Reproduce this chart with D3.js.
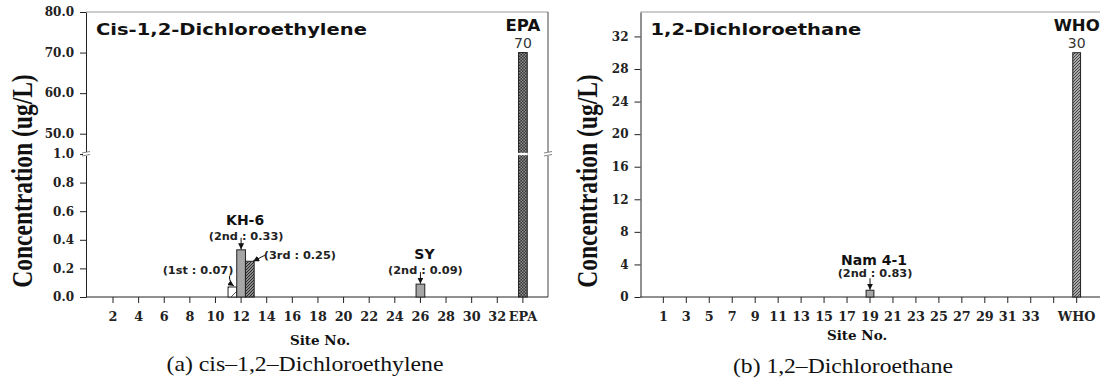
<!DOCTYPE html>
<html>
<head>
<meta charset="utf-8">
<script src="https://cdn.jsdelivr.net/npm/d3@7/dist/d3.min.js"></script>
<style>
  body { margin: 0; background: #fff; }
</style>
</head>
<body>
<script>
// ---- (a) cis-1,2-Dichloroethylene ----
var sitesA = ['1','2','3','4','5','6','7','8','9','10','11','12','13','14','15','16','17',
  '18','19','20','21','22','23','24','25','26','27','28','29','30','31','32','33','EPA'];
var detectSiteA = ['12', '12', '12', '26'];
var detectRoundA = ['1st', '2nd', '3rd', '2nd'];
var detectValueA = [0.07, 0.33, 0.25, 0.09];
var groupNameA = ['KH-6', 'SY'];
var groupSiteA = ['12', '26'];
var standardNameA = 'EPA';
var standardValueA = 70;
var yTicksA = [0, 0.2, 0.4, 0.6, 0.8, 1.0, 50, 60, 70, 80];

// ---- (b) 1,2-Dichloroethane ----
var sitesB = ['1','2','3','4','5','6','7','8','9','10','11','12','13','14','15','16','17',
  '18','19','20','21','22','23','24','25','26','27','28','29','30','31','32','33','34','35','36','WHO'];
var detectSiteB = ['19'];
var detectRoundB = ['2nd'];
var detectValueB = [0.83];
var groupNameB = ['Nam 4-1'];
var groupSiteB = ['19'];
var standardNameB = 'WHO';
var standardValueB = 30;
var yTicksB = [0, 4, 8, 12, 16, 20, 24, 28, 32];

var SANS = '"DejaVu Sans", sans-serif';
var SERIF_W = '"DejaVu Serif", serif';
var SERIF = '"Liberation Serif", "Times New Roman", serif';

var svg = d3.select('body').append('svg')
  .attr('width', 1100)
  .attr('height', 382)
  .style('background', '#fff');
var defs = svg.append('defs');

function hatch(id, bg, fg, size, d, sw) {
  var p = defs.append('pattern')
    .attr('id', id)
    .attr('patternUnits', 'userSpaceOnUse')
    .attr('width', size)
    .attr('height', size);
  p.append('rect').attr('width', size).attr('height', size).attr('fill', bg);
  p.append('path').attr('d', d).attr('stroke', fg).attr('stroke-width', sw);
}
hatch('hatchLight', '#fff', '#333', 12, 'M0,12 L12,0 M-3,3 L3,-3 M9,15 L15,9', 0.8);
hatch('hatchDark', '#8c8c8c', '#2a2a2a', 3, 'M-1,1 l2,-2 M0,3 l3,-3 M2,4 l2,-2', 1);
hatch('hatchWho', '#a8a8a8', '#3a3a3a', 3, 'M-1,1 l2,-2 M0,3 l3,-3 M2,4 l2,-2', 0.9);
var cross = defs.append('pattern')
  .attr('id', 'crossDark')
  .attr('patternUnits', 'userSpaceOnUse')
  .attr('width', 3)
  .attr('height', 3);
cross.append('rect').attr('width', 3).attr('height', 3).attr('fill', '#333');
cross.append('rect').attr('width', 1.5).attr('height', 1.5).attr('fill', '#8f8f8f');
cross.append('rect').attr('x', 1.5).attr('y', 1.5).attr('width', 1.5).attr('height', 1.5).attr('fill', '#8f8f8f');

defs.append('marker')
  .attr('id', 'arrow')
  .attr('viewBox', '0 0 10 10')
  .attr('refX', 10).attr('refY', 5)
  .attr('markerWidth', 6).attr('markerHeight', 6)
  .attr('markerUnits', 'userSpaceOnUse')
  .attr('orient', 'auto')
  .append('path').attr('d', 'M0,0 L10,5 L0,10 Z').attr('fill', '#111');

// text placed with a horizontal stretch, like the reference
function label(g, x, y, txt, o) {
  return g.append('text')
    .attr('transform', 'translate(' + x + ',' + y + ') scale(' + (o.sx || 1) + ',1)')
    .attr('text-anchor', o.anchor || 'start')
    .style('font-family', o.font)
    .style('font-size', o.size + 'px')
    .style('font-weight', o.weight || 'normal')
    .attr('fill', o.fill || '#111')
    .text(txt);
}

function styleAxis(sel, size) {
  sel.select('.domain').attr('stroke', '#222');
  sel.selectAll('.tick line').attr('stroke', '#222');
  sel.selectAll('.tick text')
    .style('font-family', SERIF_W)
    .style('font-size', size + 'px')
    .style('font-weight', 'bold')
    .attr('fill', '#222');
}

var roundOffset = { '1st': -1, '2nd': 0, '3rd': 1 };
var roundFill = { '1st': 'url(#hatchLight)', '2nd': '#a6a6a6', '3rd': 'url(#hatchDark)' };
var fmt = d3.format('.2f');

function panel(cfg) {
  var g = svg.append('g');
  var x = cfg.x, y = cfg.y;
  var base = y(0);
  var bw = x.bandwidth() * 0.68;
  var cx = function(site) { return x(site) + x.bandwidth() / 2; };

  // frame
  g.append('line').attr('x1', cfg.left).attr('x2', cfg.right).attr('y1', cfg.top).attr('y2', cfg.top)
    .attr('stroke', '#999').attr('stroke-width', 1.2);
  if (cfg.rightLine) {
    g.append('line').attr('x1', cfg.right).attr('x2', cfg.right).attr('y1', cfg.top).attr('y2', base)
      .attr('stroke', '#444');
  }

  // axes
  g.append('g').attr('transform', 'translate(' + cfg.left + ',0)')
    .call(d3.axisLeft(y).tickValues(cfg.yTicks).tickFormat(cfg.yFormat).tickSize(6).tickPadding(6).tickSizeOuter(0))
    .call(styleAxis, 12);
  var xa = g.append('g').attr('transform', 'translate(0,' + base + ')')
    .call(d3.axisBottom(x).tickValues(cfg.xTicks).tickFormat(cfg.xFormat).tickSize(6).tickPadding(9).tickSizeOuter(0))
    .call(styleAxis, 12.8);
  xa.select('.domain').remove();
  g.append('line').attr('x1', cfg.left).attr('x2', cfg.right).attr('y1', base).attr('y2', base)
    .attr('stroke', '#222');

  // detections
  var data = cfg.values.map(function(v, i) {
    return { site: cfg.sites[i], round: cfg.rounds[i], value: v };
  });
  g.selectAll('rect.det').data(data).enter().append('rect')
    .attr('class', 'det')
    .attr('x', function(d) { return cx(d.site) + (roundOffset[d.round] - 0.5) * bw; })
    .attr('y', function(d) { return y(d.value); })
    .attr('width', bw)
    .attr('height', function(d) { return base - y(d.value); })
    .attr('fill', function(d) { return roundFill[d.round]; })
    .attr('stroke', '#222');

  // standard bar
  var sx = cx(cfg.stdName);
  g.append('rect')
    .attr('x', sx - bw / 2)
    .attr('y', y(cfg.stdValue))
    .attr('width', bw)
    .attr('height', base - y(cfg.stdValue))
    .attr('fill', cfg.stdFill)
    .attr('stroke', '#222');
  label(g, sx, y(cfg.stdValue) - 22, cfg.stdName, { font: SANS, size: 16.5, weight: 'bold', anchor: 'middle' });
  label(g, sx, y(cfg.stdValue) - 5, String(cfg.stdValue), { font: SANS, size: 14, anchor: 'middle', fill: '#333' });

  // callouts
  data.forEach(function(d) {
    var bx = cx(d.site) + roundOffset[d.round] * bw;
    var top = y(d.value);
    var txt = '(' + d.round + ' : ' + fmt(d.value) + ')';
    var o = { font: SANS, size: 10.5, weight: 'bold', fill: '#222', sx: 1.08 };
    if (d.round === '2nd') {
      o.anchor = 'middle';
      label(g, bx + 5, top - cfg.calloutGap, txt, o);
      g.append('line').attr('x1', bx).attr('x2', bx).attr('y1', top - 12).attr('y2', top - 0.5)
        .attr('stroke', '#111').attr('marker-end', 'url(#arrow)');
    } else if (d.round === '3rd') {
      label(g, bx + 14, top - 2, txt, o);
      g.append('line').attr('x1', bx + 15).attr('x2', bx + bw / 2 - 1).attr('y1', top - 6).attr('y2', top)
        .attr('stroke', '#111').attr('marker-end', 'url(#arrow)');
    } else {
      o.anchor = 'end';
      label(g, bx + 1, top - 13, txt, o);
      g.append('path').attr('d', 'M' + (bx - 3) + ',' + (top - 11) + ' Q' + (bx - 3) + ',' + (top - 4) + ' ' + (bx + 1.5) + ',' + (top - 1))
        .attr('fill', 'none').attr('stroke', '#111').attr('marker-end', 'url(#arrow)');
    }
  });

  // site names
  cfg.groupNames.forEach(function(name, i) {
    var site = cfg.groupSites[i];
    var v2 = d3.max(data.filter(function(d) { return d.site === site && d.round === '2nd'; }), function(d) { return d.value; });
    label(g, cx(site) + 4, y(v2) - cfg.calloutGap - cfg.nameGap, name, { font: SANS, size: 14, weight: 'bold', anchor: 'middle' });
  });

  // title and axis titles
  label(g, cfg.left + 10, 35, cfg.title, { font: SANS, size: 16, weight: 'bold', sx: 1.22 });
  g.append('text')
    .attr('transform', 'translate(' + cfg.yTitleX + ',181) rotate(-90) scale(1,1.25)')
    .attr('text-anchor', 'middle')
    .style('font-family', SERIF)
    .style('font-size', '23.5px')
    .style('font-weight', 'bold')
    .attr('fill', '#111')
    .text('Concentration (ug/L)');
  label(g, cfg.siteX, cfg.siteY, 'Site No.', { font: SERIF_W, size: 13.5, weight: 'bold', anchor: 'middle' });
  g.append('text')
    .attr('x', cfg.capX).attr('y', cfg.capY)
    .attr('text-anchor', 'middle')
    .attr('textLength', cfg.capW)
    .attr('lengthAdjust', 'spacingAndGlyphs')
    .style('font-family', SERIF)
    .style('font-size', '22px')
    .attr('fill', '#111')
    .text(cfg.caption);
  return { g: g, x: x, y: y, bw: bw, cx: cx };
}

// ---- panel (a) with broken axis ----
var yA = d3.scaleLinear().domain([0, 1, 45, 80]).range([297, 154, 154, 12]);
var xA = d3.scaleBand().domain(sitesA).range([93.8, 529.3]);
var pA = panel({
  x: xA, y: yA, left: 86, right: 548, top: 12, rightLine: true,
  yTicks: yTicksA, yFormat: d3.format('.1f'),
  xTicks: sitesA.filter(function(d, i) { return i % 2 === 1; }), xFormat: function(d) { return d; },
  sites: detectSiteA, rounds: detectRoundA, values: detectValueA,
  groupNames: groupNameA, groupSites: groupSiteA, calloutGap: 10, nameGap: 15,
  stdName: standardNameA, stdValue: standardValueA, stdFill: 'url(#crossDark)',
  title: 'Cis-1,2-Dichloroethylene', yTitleX: 32,
  siteX: 320, siteY: 345, capX: 305, capY: 371, capW: 277,
  caption: '(a) cis\u20131,2\u2013Dichloroethylene'
});

// axis break marks and gap in the EPA bar
var yBreak = yA(1);
var epaX = pA.cx(standardNameA);
pA.g.append('rect').attr('x', epaX - pA.bw / 2 - 0.5).attr('y', yBreak - 1.2)
  .attr('width', pA.bw + 1).attr('height', 2.4).attr('fill', '#fff');
[86, 548].forEach(function(ax) {
  pA.g.append('rect').attr('x', ax - 3).attr('y', yBreak - 2).attr('width', 6).attr('height', 4).attr('fill', '#fff');
  pA.g.append('path')
    .attr('d', 'M' + (ax - 4) + ',' + (yBreak - 1) + ' l8,-1.5 M' + (ax - 4) + ',' + (yBreak + 2) + ' l8,-1.5')
    .attr('stroke', '#666').attr('stroke-width', 0.8).attr('fill', 'none');
});

// ---- panel (b) ----
var yB = d3.scaleLinear().domain([0, 35]).range([297, 12]);
var xB = d3.scaleBand().domain(sitesB).range([657.6, 1082.4]);
panel({
  x: xB, y: yB, left: 640.5, right: 1100, top: 12, rightLine: false,
  yTicks: yTicksB, yFormat: d3.format('d'),
  xTicks: sitesB.filter(function(d, i) { return i % 2 === 0; }),
  xFormat: function(d) { return d === '35' ? '' : d; },
  sites: detectSiteB, rounds: detectRoundB, values: detectValueB,
  groupNames: groupNameB, groupSites: groupSiteB, calloutGap: 13.5, nameGap: 11.5,
  stdName: standardNameB, stdValue: standardValueB, stdFill: 'url(#hatchWho)',
  title: '1,2-Dichloroethane', yTitleX: 597,
  siteX: 857, siteY: 340, capX: 843, capY: 373, capW: 220,
  caption: '(b) 1,2\u2013Dichloroethane'
});
</script>
</body>
</html>
